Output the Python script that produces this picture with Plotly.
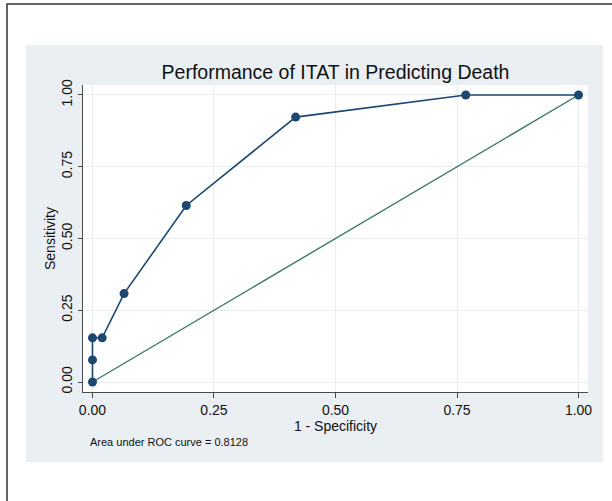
import plotly.graph_objects as go

# Data (ROC points)
one_minus_spec = [0.0, 0.0, 0.0, 0.02, 0.065, 0.193, 0.418, 0.768, 1.0]
sensitivity = [0.0, 0.077, 0.154, 0.154, 0.308, 0.615, 0.923, 1.0, 1.0]
ref_x = [0.0, 1.0]
ref_y = [0.0, 1.0]
tick_vals = [0.0, 0.25, 0.5, 0.75, 1.0]
tick_text = ["0.00", "0.25", "0.50", "0.75", "1.00"]
title_text = "Performance of ITAT in Predicting Death"
auc_text = "Area under ROC curve = 0.8128"

W, H = 612, 501
L, R, T, B = 83, 24, 85, 109
pw, ph = W - L - R, H - T - B


def px_x(p):
    return (p - L) / pw


def px_y(p):
    return (H - B - p) / ph


FONT = "Liberation Sans, Arial, Helvetica, sans-serif"
NAVY = "#1B4770"
TEAL = "#3B7A6A"
AXIS = "#4a4a4a"
GRID = "#E6EDF1"
PANEL = "#E9EFF2"

fig = go.Figure()
fig.add_trace(go.Scatter(x=ref_x, y=ref_y, mode="lines",
                         line=dict(color=TEAL, width=1.4),
                         showlegend=False, hoverinfo="skip"))
fig.add_trace(go.Scatter(x=one_minus_spec, y=sensitivity, mode="lines+markers",
                         line=dict(color=NAVY, width=1.6),
                         marker=dict(color=NAVY, size=9),
                         showlegend=False))

shapes = [
    # outer black frame (continues beyond the picture on right/bottom)
    dict(type="rect", xref="paper", yref="paper",
         x0=px_x(7), x1=px_x(700), y0=px_y(620), y1=px_y(4),
         line=dict(color="#333333", width=1.5), fillcolor="rgba(0,0,0,0)",
         layer="below"),
    # light gray panel
    dict(type="rect", xref="paper", yref="paper",
         x0=px_x(26), x1=px_x(603), y0=px_y(462), y1=px_y(45),
         line=dict(width=0), fillcolor=PANEL, layer="below"),
    # white plot region
    dict(type="rect", xref="paper", yref="paper",
         x0=0, x1=1, y0=0, y1=1,
         line=dict(width=0), fillcolor="white", layer="below"),
]

fig.update_layout(
    width=W, height=H,
    margin=dict(l=L, r=R, t=T, b=B, pad=0),
    paper_bgcolor="white",
    plot_bgcolor="white",
    font=dict(family=FONT, color="#111111", size=14),
    shapes=shapes,
    title=dict(text=title_text, x=0.5, xref="paper", xanchor="center",
               y=1 - 72 / H, yref="container", yanchor="middle",
               font=dict(size=19.5, color="#111111", family=FONT)),
    annotations=[dict(text=auc_text, xref="paper", yref="paper",
                      x=px_x(88), y=px_y(442), xanchor="left", yanchor="middle",
                      showarrow=False, font=dict(size=11, color="#111111", family=FONT))],
    xaxis=dict(range=[-0.0195, 1.0195], tickvals=tick_vals, ticktext=tick_text,
               showgrid=True, gridcolor=GRID, gridwidth=1, zeroline=False,
               showline=True, linecolor=AXIS, linewidth=1, mirror=False,
               ticks="outside", ticklen=5, tickcolor=AXIS, tickwidth=1,
               tickfont=dict(size=14),
               title=dict(text="1 - Specificity", font=dict(size=14), standoff=2)),
    yaxis=dict(range=[-0.0348, 1.0348], tickvals=tick_vals, ticktext=tick_text,
               showgrid=True, gridcolor=GRID, gridwidth=1, zeroline=False,
               showline=True, linecolor=AXIS, linewidth=1, mirror=False,
               ticks="outside", ticklen=4, tickcolor=AXIS, tickwidth=1,
               tickangle=-90, tickfont=dict(size=14),
               title=dict(text="Sensitivity", font=dict(size=14), standoff=0)),
)

fig.write_html("out.html",
               config={"displayModeBar": False},
               post_script="document.body.style.margin='0';document.body.style.overflow='hidden';")
